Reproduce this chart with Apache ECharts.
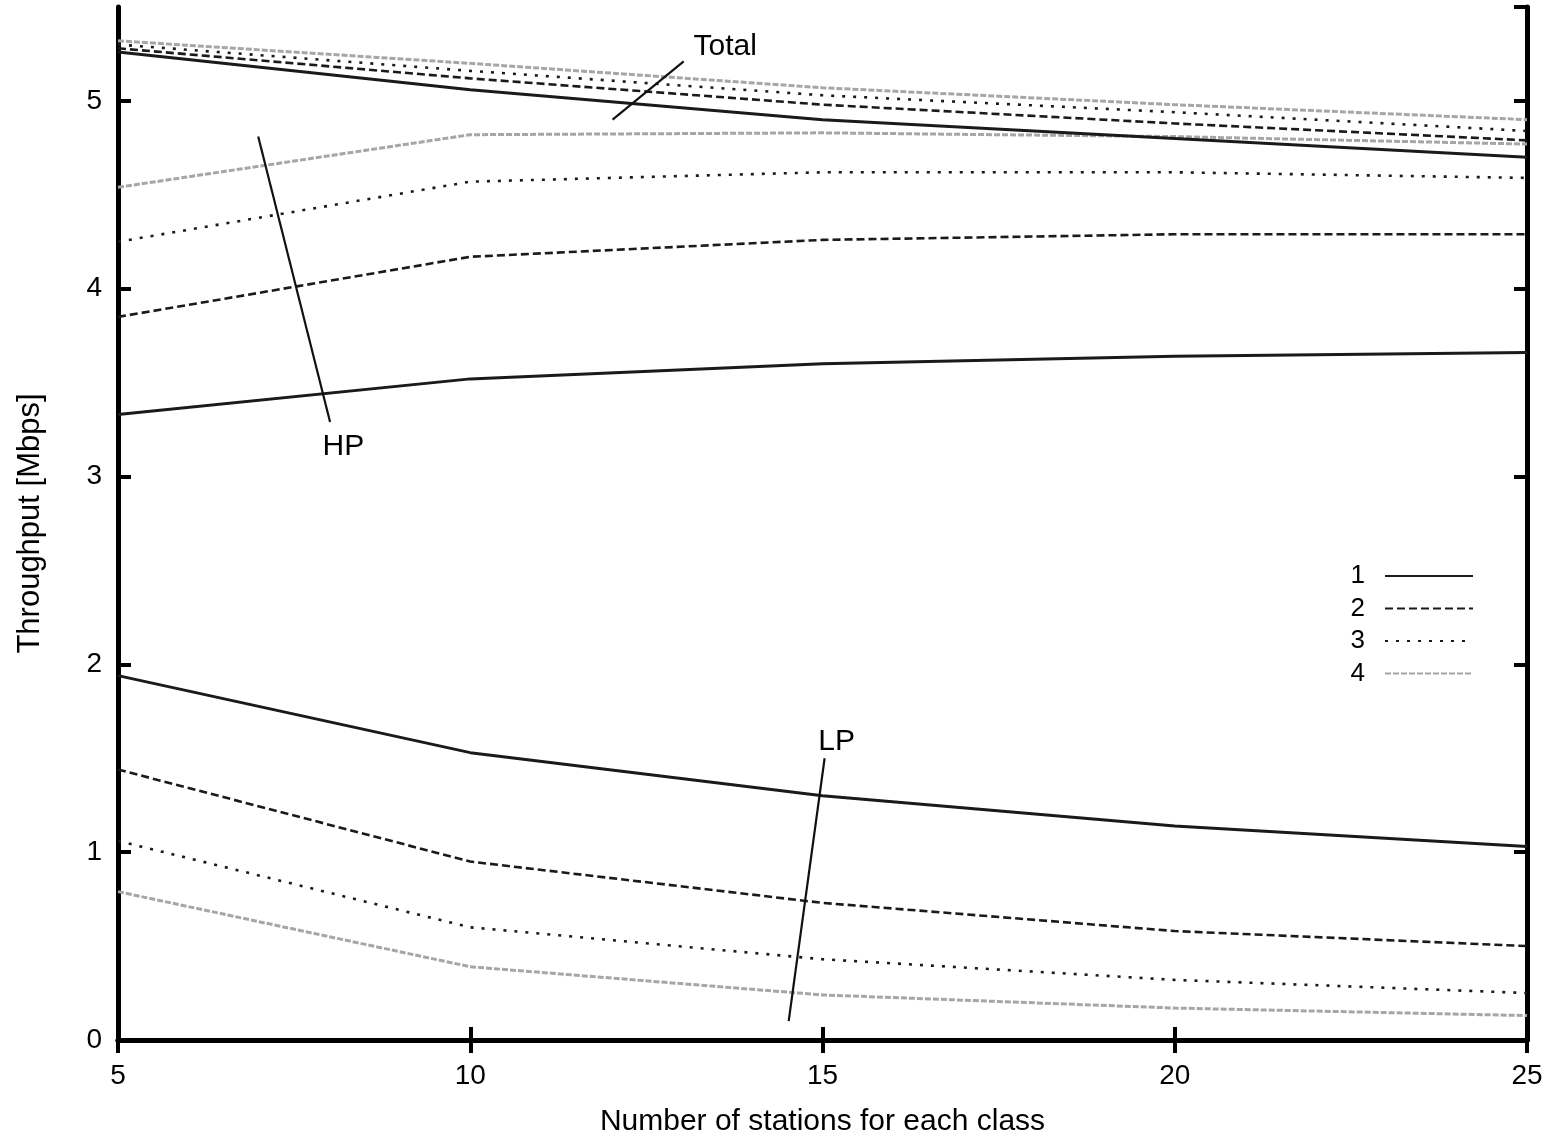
<!DOCTYPE html>
<html>
<head>
<meta charset="utf-8">
<script src="https://cdn.jsdelivr.net/npm/echarts@6/dist/echarts.min.js"></script>
<style>
  html, body { margin: 0; padding: 0; background: #fff; }
  #chart { width: 1556px; height: 1136px; }
</style>
</head>
<body>
<div id="chart"></div>
<script>
// stations per class
const stations = [5, 10, 15, 20, 25]

// high priority throughput, case 1..4
const hp1 = [3.33, 3.52, 3.60, 3.64, 3.66]
const hp2 = [3.85, 4.17, 4.26, 4.29, 4.29]
const hp3 = [4.25, 4.57, 4.62, 4.62, 4.59]
const hp4 = [4.54, 4.82, 4.83, 4.81, 4.77]

// low priority throughput
const lp1 = [1.94, 1.53, 1.30, 1.14, 1.03]
const lp2 = [1.44, 0.95, 0.73, 0.58, 0.50]
const lp3 = [1.06, 0.60, 0.43, 0.32, 0.25]
const lp4 = [0.79, 0.39, 0.24, 0.17, 0.13]

// total throughput
const total1 = [5.26, 5.06, 4.90, 4.80, 4.70]
const total2 = [5.28, 5.12, 4.98, 4.88, 4.79]
const total3 = [5.30, 5.16, 5.03, 4.94, 4.84]
const total4 = [5.32, 5.20, 5.07, 4.98, 4.90]

const yTicks = [0, 1, 2, 3, 4, 5]
const xTicks = [5, 10, 15, 20, 25]

// annotation pointer lines (data coords) and their labels
const hpPointer = [[6.99, 4.81], [8.01, 3.29]]
const totalPointer = [[12.02, 4.90], [13.03, 5.21]]
const lpPointer = [[14.52, 0.10], [15.03, 1.50]]
const notes = [
  { name: 'HP', value: [8.2, 3.16] },
  { name: 'Total', value: [13.62, 5.29] },
  { name: 'LP', value: [15.2, 1.59] },
]

const font = 'Liberation Sans, Arial, Helvetica, sans-serif'

const styles = {
  1: { color: '#1a1a1a', width: 3, type: 'solid' },
  2: { color: '#1a1a1a', width: 2.6, type: [8, 4] },
  3: { color: '#1a1a1a', width: 2.6, type: [3, 8] },
  4: { color: '#a6a6a6', width: 3, type: [6, 2] },
}

function pairs(ys) {
  return ys.map((y, i) => [stations[i], y])
}

function curve(name, ys) {
  const s = styles[name]
  return {
    name,
    type: 'line',
    data: pairs(ys),
    symbol: 'none',
    silent: true,
    itemStyle: { color: s.color },
    lineStyle: { color: s.color, width: s.width, type: s.type },
  }
}

function pointer(pts) {
  return {
    type: 'line',
    data: pts,
    symbol: 'none',
    silent: true,
    lineStyle: { color: '#111', width: 2.2 },
    z: 5,
  }
}

const chart = echarts.init(document.getElementById('chart'))
chart.setOption({
  animation: false,
  backgroundColor: '#fff',
  textStyle: { fontFamily: font },
  grid: { left: 118, right: 29, top: 7, bottom: 96, containLabel: false, outerBoundsMode: 'none' },
  legend: {
    orient: 'vertical',
    right: 77,
    top: 558,
    align: 'right',
    itemWidth: 88,
    itemHeight: 14,
    itemGap: 6.5,
    selectedMode: false,
    data: ['1', '2', '3', '4'],
    itemStyle: { opacity: 0 },
    textStyle: { fontFamily: font, fontSize: 26, color: '#000', lineHeight: 26, padding: [0, 15, 0, 0] },
  },
  xAxis: [
    {
      type: 'value',
      min: 5,
      max: 25,
      interval: 5,
      name: 'Number of stations for each class',
      nameLocation: 'middle',
      nameGap: 67,
      nameTextStyle: { fontFamily: font, fontSize: 30, color: '#000' },
      axisLine: { lineStyle: { color: '#000', width: 5 } },
      axisTick: { inside: true, length: 13, lineStyle: { color: '#000', width: 4 } },
      axisLabel: {
        margin: 22, fontFamily: font, fontSize: 28, color: '#000',
        formatter: v => (xTicks.includes(v) ? String(v) : ''),
      },
      splitLine: { show: false },
    },
    {
      type: 'value',
      position: 'top',
      min: 5,
      max: 25,
      interval: 5,
      axisLine: { lineStyle: { color: '#000', width: 5 } },
      axisTick: { inside: true, length: 13, lineStyle: { color: '#000', width: 4 } },
      axisLabel: { show: false },
      splitLine: { show: false },
    },
  ],
  yAxis: [
    {
      type: 'value',
      min: 0,
      max: 5.5,
      interval: 1,
      name: 'Throughput [Mbps]',
      nameLocation: 'middle',
      nameGap: 72,
      nameTextStyle: { fontFamily: font, fontSize: 31, color: '#000' },
      axisLine: { lineStyle: { color: '#000', width: 5 } },
      axisTick: { inside: true, length: 13, lineStyle: { color: '#000', width: 4 } },
      axisLabel: {
        margin: 16, fontFamily: font, fontSize: 28, color: '#000',
        showMaxLabel: false,
        formatter: v => (yTicks.includes(v) ? String(v) : ''),
      },
      splitLine: { show: false },
    },
    {
      type: 'value',
      position: 'right',
      min: 0,
      max: 5.5,
      interval: 1,
      axisLine: { lineStyle: { color: '#000', width: 5 } },
      axisTick: { inside: true, length: 13, lineStyle: { color: '#000', width: 4 } },
      axisLabel: { show: false },
      splitLine: { show: false },
    },
  ],
  series: [
    curve('1', hp1), curve('2', hp2), curve('3', hp3), curve('4', hp4),
    curve('1', lp1), curve('2', lp2), curve('3', lp3), curve('4', lp4),
    curve('4', total4), curve('3', total3), curve('2', total2), curve('1', total1),
    pointer(hpPointer), pointer(totalPointer), pointer(lpPointer),
    {
      type: 'scatter',
      data: notes,
      symbolSize: 1,
      itemStyle: { color: 'rgba(0,0,0,0)' },
      silent: true,
      label: {
        show: true,
        position: 'inside',
        formatter: p => p.name,
        fontFamily: font,
        fontSize: 30,
        color: '#000',
        opacity: 1,
      },
    },
  ],
})
</script>
</body>
</html>
